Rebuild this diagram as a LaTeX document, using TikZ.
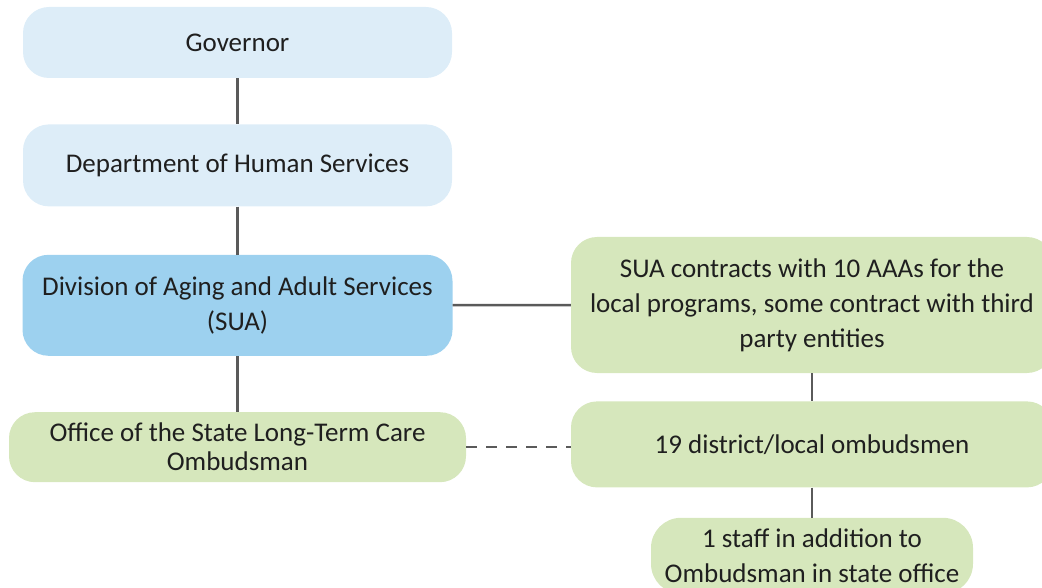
\documentclass[tikz,border=0pt]{standalone}
\usepackage{fontspec}
\setmainfont{Carlito}
\usetikzlibrary{positioning}

\definecolor{paleblue}{HTML}{DDEDF8}
\definecolor{skyblue}{HTML}{9DD1EF}
\definecolor{palegreen}{HTML}{D6E7BC}
\definecolor{linegray}{HTML}{5A5A5A}

\tikzset{
  box/.style={rounded corners=26pt, align=center, inner sep=0pt,
    text=black!88, font=\fontsize{27}{35}\selectfont},
  statebox/.style={box, fill=paleblue},
  suabox/.style={box, fill=skyblue},
  localbox/.style={box, fill=palegreen},
  link/.style={draw=linegray, line width=2.5pt}
}

\begin{document}
\begin{tikzpicture}[x=1pt,y=1pt,node distance=46pt]
                \useasboundingbox (0,0) rectangle (1042,-588);

                \node[statebox,minimum width=429pt,minimum height=71pt] (gov) at (237.5,-42.5) {Governor};

                \node[statebox,minimum width=429pt,minimum height=82pt] (dhs) [below=46pt of gov] {Department of Human Services};

                \node[suabox,minimum width=430pt,minimum height=101pt] (daas) [below=48pt of dhs] {Division of Aging and Adult Services\\(SUA)};

                \node[localbox,minimum width=457pt,minimum height=70pt,font=\fontsize{27}{29}\selectfont] (ltc) [below=56pt of daas] {Office of the State Long-Term Care\\Ombudsman};

                \node[localbox,minimum width=482pt,minimum height=136pt] (aaa) at (812,-305) {SUA contracts with 10 AAAs for the\\local programs, some contract with third\\party entities};

                \node[localbox,minimum width=482pt,minimum height=86pt] (dist) [below=28pt of aaa] {19 district/local ombudsmen};

                \node[localbox,minimum width=322pt,minimum height=76pt,rounded corners=30pt] (staff) [below=30pt of dist] {1 staff in addition to\\Ombudsman in state office};

                

                \path[link] (gov) edge (dhs)

                            (dhs) edge (daas)

                            (daas) edge (ltc)

                                   edge (aaa)

                            (aaa) edge (dist)

                            (dist) edge (staff);

                \draw[link,dash pattern=on 11pt off 9pt] (ltc.east) -- (ltc.east -| dist.west);

            \end{tikzpicture}
\end{document}
